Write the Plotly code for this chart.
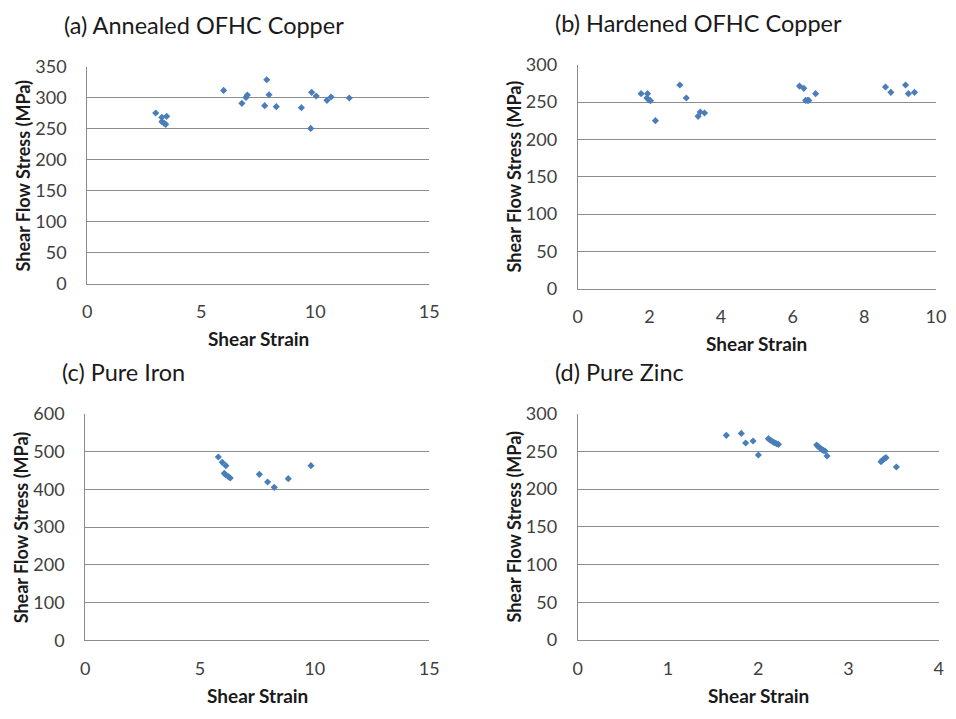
import plotly.graph_objects as go

# (a) Annealed OFHC Copper
a_strain = [3.00, 3.27, 3.48, 3.27, 3.36, 3.44, 5.98, 6.78, 6.96, 7.02, 7.87, 7.97, 7.78, 8.29,
            9.39, 9.84, 10.04, 9.80, 10.51, 10.69, 11.49]
a_stress = [275.3, 268.3, 269.9, 261.3, 259.1, 257.0, 311.8, 290.9, 300.5, 304.3, 329.0, 304.8,
            287.1, 285.5, 283.9, 308.6, 302.7, 250.5, 295.7, 301.1, 299.5]

# (b) Hardened OFHC Copper
b_strain = [1.77, 1.95, 1.93, 1.98, 2.03, 2.17, 2.85, 3.03, 3.36, 3.42, 3.54, 6.19, 6.31, 6.36,
            6.41, 6.45, 6.64, 8.59, 8.74, 9.15, 9.23, 9.40]
b_stress = [261.2, 261.2, 255.4, 253.1, 251.8, 225.0, 272.8, 255.4, 230.8, 236.6, 235.3, 271.4,
            268.3, 252.2, 252.2, 252.2, 261.2, 270.1, 263.0, 272.8, 261.2, 263.0]

# (c) Pure Iron
c_strain = [5.80, 5.97, 6.13, 6.06, 6.13, 6.24, 6.32, 7.59, 7.95, 8.24, 8.85, 9.84]
c_stress = [485.3, 471.2, 462.3, 442.1, 437.6, 433.2, 429.7, 439.4, 419.1, 405.0, 427.9, 462.3]

# (d) Pure Zinc
d_strain = [1.647, 1.813, 1.861, 1.943, 2.002, 2.113, 2.131, 2.150, 2.168, 2.187, 2.205, 2.224,
            2.648, 2.667, 2.685, 2.704, 2.722, 2.741, 2.763, 3.361, 3.379, 3.398, 3.416, 3.531]
d_stress = [271.3, 273.9, 261.1, 263.8, 245.2, 266.9, 265.1, 263.8, 262.4, 261.1, 260.2, 259.4,
            258.5, 256.3, 254.5, 252.7, 251.4, 250.5, 243.9, 236.4, 238.6, 240.4, 241.7, 229.3]

titles = ["(a) Annealed OFHC Copper", "(b) Hardened OFHC Copper", "(c) Pure Iron", "(d) Pure Zinc"]
x_label = "Shear Strain"
y_label = "Shear Flow Stress (MPa)"

W, H = 956, 719
FONT = "Lato, Liberation Sans, sans-serif"
MARK = "#4A7EBB"
GRID = "#8C8C8C"
TICKC = "#404040"

# plot area pixel boxes: (left, right, top, bottom)
boxes = [(87.3, 429.3, 66.7, 283.7), (577.7, 936.0, 64.7, 288.7),
         (85.3, 429.3, 413.7, 640.3), (577.7, 938.7, 413.7, 640.0)]
xranges = [(15, 5), (10, 2), (15, 5), (4, 1)]
yranges = [(350, 50), (300, 50), (600, 100), (300, 50)]
data = [(a_strain, a_stress), (b_strain, b_stress), (c_strain, c_stress), (d_strain, d_stress)]

fig = go.Figure()
annotations = []
for i, ((xs, ys), (l, r, t, b)) in enumerate(zip(data, boxes)):
    n = "" if i == 0 else str(i + 1)
    fig.add_trace(go.Scatter(x=xs, y=ys, mode="markers", xaxis="x" + n, yaxis="y" + n,
                             marker=dict(symbol="diamond", size=5.5, color=MARK),
                             showlegend=False, hoverinfo="skip"))
    xmax, xd = xranges[i]
    ymax, yd = yranges[i]
    common = dict(zeroline=False, showline=True, linecolor=GRID, linewidth=1, automargin=False,
                  tickfont=dict(family=FONT, size=18, color=TICKC), ticks="",
                  fixedrange=True)
    fig.update_layout(**{
        "xaxis" + n: dict(domain=[l / W, r / W], range=[0, xmax], dtick=xd, tick0=0,
                          anchor="y" + n, showgrid=False, ticklabelstandoff=12, **common),
        "yaxis" + n: dict(domain=[1 - b / H, 1 - t / H], range=[0, ymax], dtick=yd, tick0=0,
                          anchor="x" + n, showgrid=True, gridcolor=GRID, gridwidth=1,
                          ticklabelstandoff=16, **common),
    })
    # title
    annotations.append(dict(text=titles[i], x=(l - 25) / W, y=1 - (t - 42) / H,
                            xref="paper", yref="paper", xanchor="left", yanchor="middle",
                            showarrow=False, font=dict(family=FONT, size=23.5, color="#1a1a1a")))
    # x axis label
    annotations.append(dict(text="<b>" + x_label + "</b>", x=(l + r) / 2 / W, y=1 - (b + 55) / H,
                            xref="paper", yref="paper", xanchor="center", yanchor="middle",
                            showarrow=False, font=dict(family=FONT, size=19, color="#1a1a1a")))
    # y axis label
    annotations.append(dict(text="<b>" + y_label + "</b>", x=(l - 64) / W, y=1 - (t + b) / 2 / H,
                            xref="paper", yref="paper", xanchor="center", yanchor="middle",
                            textangle=-90, showarrow=False,
                            font=dict(family=FONT, size=18, color="#1a1a1a")))

fig.update_layout(width=W, height=H, margin=dict(l=0, r=0, t=0, b=0, autoexpand=False),
                  paper_bgcolor="white", plot_bgcolor="white", annotations=annotations)

fig.write_html("out.html")
